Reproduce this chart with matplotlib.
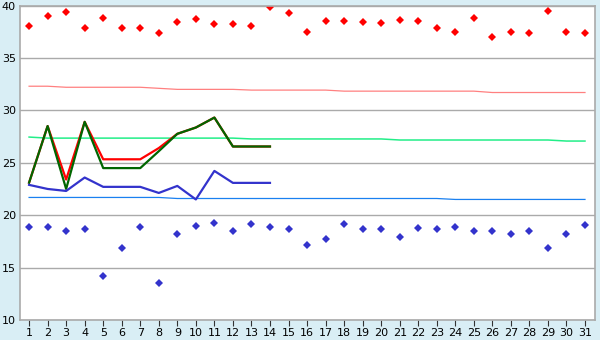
import numpy as np
import matplotlib
matplotlib.use("Agg")
import matplotlib.pyplot as plt

days = list(range(1, 32))

# daily extremes (points)
max_pts = [38.0, 39.0, 39.35, 37.9, 38.8, 37.9, 37.9, 37.35, 38.4, 38.7, 38.2, 38.2, 38.0, 39.9, 39.25,
           37.5, 38.5, 38.5, 38.4, 38.3, 38.6, 38.5, 37.9, 37.5, 38.8, 37.0, 37.5, 37.35, 39.5, 37.5, 37.35]
min_pts = [18.85, 18.85, 18.45, 18.65, 14.15, 16.85, 18.85, 13.5, 18.25, 19.0, 19.3, 18.45, 19.2, 18.85, 18.65,
           17.2, 17.7, 19.2, 18.65, 18.65, 17.95, 18.75, 18.65, 18.85, 18.45, 18.45, 18.25, 18.45, 16.85, 18.25, 19.1]

# reference lines
norm_max = [32.3, 32.3, 32.2, 32.2, 32.2, 32.2, 32.2, 32.1, 32.0, 32.0, 32.0, 32.0, 31.93, 31.93, 31.93,
            31.93, 31.93, 31.83, 31.83, 31.83, 31.83, 31.83, 31.83, 31.83, 31.83, 31.7, 31.7, 31.7, 31.7, 31.7, 31.7]
norm_mean = [27.45, 27.35, 27.35, 27.35, 27.35, 27.35, 27.35, 27.35, 27.35, 27.35, 27.35, 27.35, 27.27, 27.27, 27.27,
             27.27, 27.27, 27.27, 27.27, 27.27, 27.17, 27.17, 27.17, 27.17, 27.17, 27.17, 27.17, 27.17, 27.17, 27.07, 27.07]
norm_min = [21.69, 21.69, 21.69, 21.69, 21.69, 21.69, 21.69, 21.69, 21.59, 21.59, 21.59, 21.59, 21.59, 21.59, 21.59,
            21.59, 21.59, 21.59, 21.59, 21.59, 21.59, 21.59, 21.59, 21.5, 21.5, 21.5, 21.5, 21.5, 21.5, 21.5, 21.5]

# current series (days 1-14)
cur_days = list(range(1, 15))
cur_red = [23.1, 28.5, 23.4, 28.9, 25.33, 25.33, 25.33, 26.4, 27.76, 28.36, 29.31, 26.55, 26.55, 26.55]
cur_green = [23.1, 28.5, 22.5, 28.9, 24.49, 24.49, 24.49, 26.1, 27.76, 28.36, 29.31, 26.55, 26.55, 26.55]
cur_blue = [22.89, 22.5, 22.31, 23.59, 22.7, 22.7, 22.7, 22.12, 22.79, 21.5, 24.22, 23.08, 23.08, 23.08]

fig = plt.figure(figsize=(6, 3.4), dpi=100, facecolor="#d9eef5")
ax = fig.add_axes([20 / 600, 20 / 340, 575 / 600, 314.5 / 340])
ax.set_facecolor("white")

ax.set_xlim(0.51, 31.54)
ax.set_ylim(10, 40)
ax.set_yticks([10, 15, 20, 25, 30, 35, 40])
ax.set_xticks(days)
ax.grid(axis="y", color="#aaaaaa", linewidth=1)
ax.set_axisbelow(True)
for s in ax.spines.values():
    s.set_color("#aaaaaa")
    s.set_linewidth(1.2)

ax.tick_params(axis="y", length=0, pad=3, labelsize=8)
ax.tick_params(axis="x", length=4.5, width=0.8, color="#333333", pad=1, labelsize=8)

ax.plot(days, norm_max, color="#ff8080", lw=0.9)
ax.plot(days, norm_mean, color="#22ee88", lw=1.1)
ax.plot(days, norm_min, color="#1a80f0", lw=0.9)

ax.plot(cur_days, cur_red, color="#ff0000", lw=1.6)
ax.plot(cur_days, cur_green, color="#006600", lw=1.6)
ax.plot(cur_days, cur_blue, color="#3333cc", lw=1.6)

ax.plot(days, max_pts, linestyle="none", marker="D", color="#ff0000", ms=3.6, mew=0)
ax.plot(days, min_pts, linestyle="none", marker="D", color="#3333cc", ms=3.6, mew=0)

fig.savefig("out.png", dpi=100, facecolor=fig.get_facecolor())
